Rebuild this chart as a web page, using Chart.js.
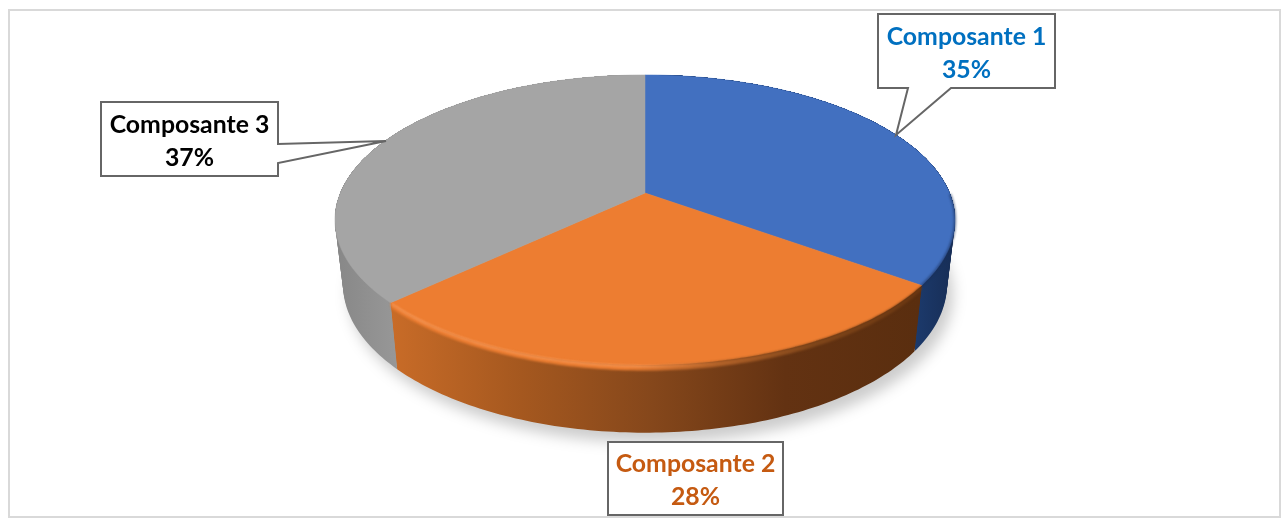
<!DOCTYPE html>
<html lang="fr">
<head>
    <meta charset="UTF-8">
    <title>Composantes</title>
    <style>
        html, body { margin: 0; padding: 0; background: #fff; }
        canvas { display: block; }
    </style>
</head>
<body>
    <canvas id="pieChart" width="1282" height="518"></canvas>

    <script src="https://cdn.jsdelivr.net/npm/chart.js"></script>
    <script>
        // Chart data
        const categories = ['Composante 1', 'Composante 2', 'Composante 3'];
        const shares = [35, 28, 37];

        // Colours per slice
        const topColors = ['#4270c0', '#ed7d31', '#a5a5a5'];
        const textColors = ['#0070c0', '#c55a11', '#000000'];

        // Perspective of the disc: k is how much nearer the front edge looks
        const k = 0.186;
        const topDisc = { x: 645, y: 193, a: 304.6, b: 140 };
        const baseDisc = { x: 645, y: 257, a: 296.7, b: 143 };

        // Callout boxes, tail is optional
        const callouts = [
            { x: 878, y: 14, w: 177, h: 74, tail: [[951, 88], [896, 135], [908, 88]] },
            { x: 608, y: 442, w: 175, h: 73, tail: null },
            { x: 101, y: 102, w: 177, h: 74, tail: [[278, 144], [386, 141], [278, 163]] }
        ];

        function project(disc, angle) {
            const u = Math.cos(angle);
            const v = Math.sin(angle);
            const w = 1 - k * v;
            return [disc.x + disc.a * u / w, disc.y + disc.b * v / w];
        }

        // Adds the arc to the current path, sampled through the projection
        function traceArc(ctx, disc, from, to) {
            const steps = Math.max(8, Math.ceil(Math.abs(to - from) * 60));
            for (let i = 0; i <= steps; i++) {
                const p = project(disc, from + (to - from) * i / steps);
                ctx.lineTo(p[0], p[1]);
            }
        }

        // Disc part way down the wall, t from 0 (top) to 1 (base)
        function discAt(t) {
            return {
                x: topDisc.x,
                y: topDisc.y + (baseDisc.y - topDisc.y) * t,
                a: topDisc.a + (baseDisc.a - topDisc.a) * t,
                b: topDisc.b + (baseDisc.b - topDisc.b) * t
            };
        }

        function sideFill(ctx, index) {
            let g;
            if (index === 1) {
                g = ctx.createLinearGradient(388, 0, 918, 0);
                g.addColorStop(0, '#c96c28');
                g.addColorStop(0.25, '#a5581f');
                g.addColorStop(0.5, '#85471b');
                g.addColorStop(0.75, '#633212');
                g.addColorStop(1, '#5a2e0f');
            } else if (index === 0) {
                g = ctx.createLinearGradient(915, 0, 955, 0);
                g.addColorStop(0, '#1c3a6c');
                g.addColorStop(1, '#172d55');
            } else {
                g = ctx.createLinearGradient(335, 0, 395, 0);
                g.addColorStop(0, '#878787');
                g.addColorStop(1, '#979797');
            }
            return g;
        }

        // Draws the 3D disc from the arcs the library computed
        const disc3d = {
            id: 'disc3d',
            beforeDatasetsDraw(chart) {
                const ctx = chart.ctx;
                const arcs = chart.getDatasetMeta(0).data;
                const first = arcs[0].startAngle;
                const full = first + Math.PI * 2;

                // soft shadow below the disc
                ctx.save();
                ctx.filter = 'blur(7px)';
                ctx.fillStyle = 'rgba(0,0,0,0.2)';
                ctx.translate(6, 10);
                ctx.beginPath();
                traceArc(ctx, baseDisc, first, full);
                ctx.closePath();
                ctx.fill();
                ctx.restore();

                // side walls, always from the top rim down so the strips overlap
                const strips = 24;
                for (let s = 1; s <= strips; s++) {
                    const lower = discAt(s / strips);
                    arcs.forEach((arc, i) => {
                        ctx.beginPath();
                        traceArc(ctx, topDisc, arc.startAngle, arc.endAngle);
                        traceArc(ctx, lower, arc.endAngle, arc.startAngle);
                        ctx.closePath();
                        ctx.fillStyle = sideFill(ctx, i);
                        ctx.fill();
                    });
                }

                // top faces
                arcs.forEach((arc, i) => {
                    ctx.beginPath();
                    ctx.moveTo(topDisc.x, topDisc.y);
                    traceArc(ctx, topDisc, arc.startAngle, arc.endAngle);
                    ctx.closePath();
                    ctx.fillStyle = topColors[i];
                    ctx.fill();
                    ctx.strokeStyle = topColors[i];
                    ctx.lineWidth = 0.5;
                    ctx.stroke();
                });

                // bevel band between the orange face and its wall
                ctx.save();
                ctx.filter = 'blur(1.2px)';
                const band = ctx.createLinearGradient(388, 0, 920, 0);
                band.addColorStop(0, '#e97b30');
                band.addColorStop(0.45, '#ec7e32');
                band.addColorStop(0.6, '#b8652a');
                band.addColorStop(0.8, '#80461a');
                band.addColorStop(1, '#6a3712');
                const bevelEdge = { x: topDisc.x, y: topDisc.y + 5.5, a: topDisc.a - 1, b: topDisc.b };
                ctx.beginPath();
                traceArc(ctx, topDisc, arcs[1].startAngle, arcs[1].endAngle);
                traceArc(ctx, bevelEdge, arcs[1].endAngle, arcs[1].startAngle);
                ctx.closePath();
                ctx.fillStyle = band;
                ctx.fill();

                // highlight on the left half of the rim
                const shine = ctx.createLinearGradient(388, 0, 720, 0);
                shine.addColorStop(0, 'rgba(250,155,90,0.9)');
                shine.addColorStop(0.75, 'rgba(250,155,90,0.9)');
                shine.addColorStop(1, 'rgba(250,155,90,0)');
                ctx.strokeStyle = shine;
                ctx.lineWidth = 2;
                ctx.beginPath();
                const shineLine = { x: topDisc.x, y: topDisc.y + 1, a: topDisc.a - 1, b: topDisc.b };
                traceArc(ctx, shineLine, arcs[1].startAngle + 0.5, arcs[1].endAngle);
                ctx.stroke();

                // darker soft edge on the right of the blue slice
                ctx.strokeStyle = 'rgba(25,45,85,0.55)';
                ctx.lineWidth = 2.5;
                ctx.beginPath();
                traceArc(ctx, topDisc, arcs[0].endAngle - 0.62, arcs[0].endAngle);
                ctx.stroke();
                ctx.restore();

                return false;
            },
            afterDraw(chart) {
                const ctx = chart.ctx;

                // outer frame
                ctx.save();
                ctx.strokeStyle = '#d9d9d9';
                ctx.lineWidth = 2;
                ctx.strokeRect(9, 10, 1271, 507);
                ctx.restore();

                // callouts
                callouts.forEach((box, i) => {
                    const x2 = box.x + box.w;
                    const y2 = box.y + box.h;
                    ctx.save();
                    ctx.beginPath();
                    ctx.moveTo(box.x, box.y);
                    ctx.lineTo(x2, box.y);
                    if (box.tail && box.tail[0][0] === x2) {
                        box.tail.forEach(p => ctx.lineTo(p[0], p[1]));
                    }
                    ctx.lineTo(x2, y2);
                    if (box.tail && box.tail[0][1] === y2) {
                        box.tail.forEach(p => ctx.lineTo(p[0], p[1]));
                    }
                    ctx.lineTo(box.x, y2);
                    ctx.closePath();
                    ctx.fillStyle = '#ffffff';
                    ctx.fill();
                    ctx.strokeStyle = '#666666';
                    ctx.lineWidth = 2;
                    ctx.stroke();

                    ctx.fillStyle = textColors[i];
                    ctx.font = 'bold 24.8px Lato';
                    ctx.textAlign = 'center';
                    ctx.textBaseline = 'middle';
                    const cx = box.x + box.w / 2;
                    const cy = box.y + box.h / 2;
                    ctx.fillText(categories[i], cx, cy - 14);
                    ctx.fillText(shares[i] + '%', cx, cy + 19);
                    ctx.restore();
                });
            }
        };

        new Chart(document.getElementById('pieChart').getContext('2d'), {
            type: 'pie',
            data: {
                labels: categories,
                datasets: [{ data: shares, backgroundColor: topColors }]
            },
            options: {
                responsive: false,
                animation: false,
                plugins: {
                    legend: { display: false },
                    tooltip: { enabled: false }
                }
            },
            plugins: [disc3d]
        });
    </script>
</body>
</html>
